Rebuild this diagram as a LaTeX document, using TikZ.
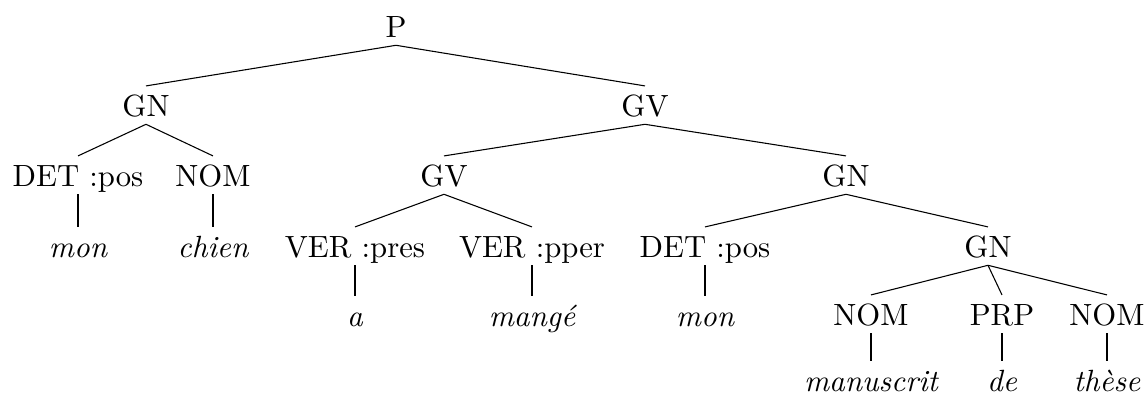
\documentclass[tikz,border=0pt]{standalone}
\begin{document}
\begin{tikzpicture}[x=0.32573pt,y=-0.32573pt,
  tn/.style={anchor=base,inner sep=2.5pt,text height=7.1pt,text depth=0pt},
  lf/.style={tn,font=\itshape},
  br/.style={line width=0.35pt}]
\useasboundingbox (0,0) rectangle (1145,394);
\node[tn] (p) at (396,37) {P};
\node[tn] (gn1) at (146,116) {GN};
\node[tn] (gv1) at (645,116) {GV};
\node[tn] (det1) at (78,186) {DET :pos};
\node[tn] (nom1) at (213,186) {NOM};
\node[tn] (gv2) at (444,186) {GV};
\node[tn] (gn2) at (846,186) {GN};
\node[lf] (mon1) at (78,257) {mon};
\node[lf] (chien) at (213,257) {chien};
\node[tn] (ver1) at (355,257) {VER :pres};
\node[tn] (ver2) at (532,257) {VER :pper};
\node[tn] (det2) at (705,257) {DET :pos};
\node[tn] (gn3) at (988,257) {GN};
\node[lf] (a) at (355,326) {a};
\node[lf] (mange) at (532,326) {mangé};
\node[lf] (mon2) at (705,326) {mon};
\node[tn] (nom2) at (871,325) {NOM};
\node[tn] (prp) at (1002,325) {PRP};
\node[tn] (nom3) at (1107,325) {NOM};
\node[lf] (manus) at (871,391) {manuscrit};
\node[lf] (de) at (1002,391) {de};
\node[lf] (these) at (1107,391) {thèse};
\draw[br] (p.south) -- (gn1.north);
\draw[br] (p.south) -- (gv1.north);
\draw[br] (gn1.south) -- (det1.north);
\draw[br] (gn1.south) -- (nom1.north);
\draw[br] (det1.south) -- (mon1.north);
\draw[br] (nom1.south) -- (chien.north);
\draw[br] (gv1.south) -- (gv2.north);
\draw[br] (gv1.south) -- (gn2.north);
\draw[br] (gv2.south) -- (ver1.north);
\draw[br] (gv2.south) -- (ver2.north);
\draw[br] (ver1.south) -- (a.north);
\draw[br] (ver2.south) -- (mange.north);
\draw[br] (gn2.south) -- (det2.north);
\draw[br] (gn2.south) -- (gn3.north);
\draw[br] (det2.south) -- (mon2.north);
\draw[br] (gn3.south) -- (nom2.north);
\draw[br] (gn3.south) -- (prp.north);
\draw[br] (gn3.south) -- (nom3.north);
\draw[br] (nom2.south) -- (manus.north);
\draw[br] (prp.south) -- (de.north);
\draw[br] (nom3.south) -- (these.north);
\end{tikzpicture}
\end{document}
